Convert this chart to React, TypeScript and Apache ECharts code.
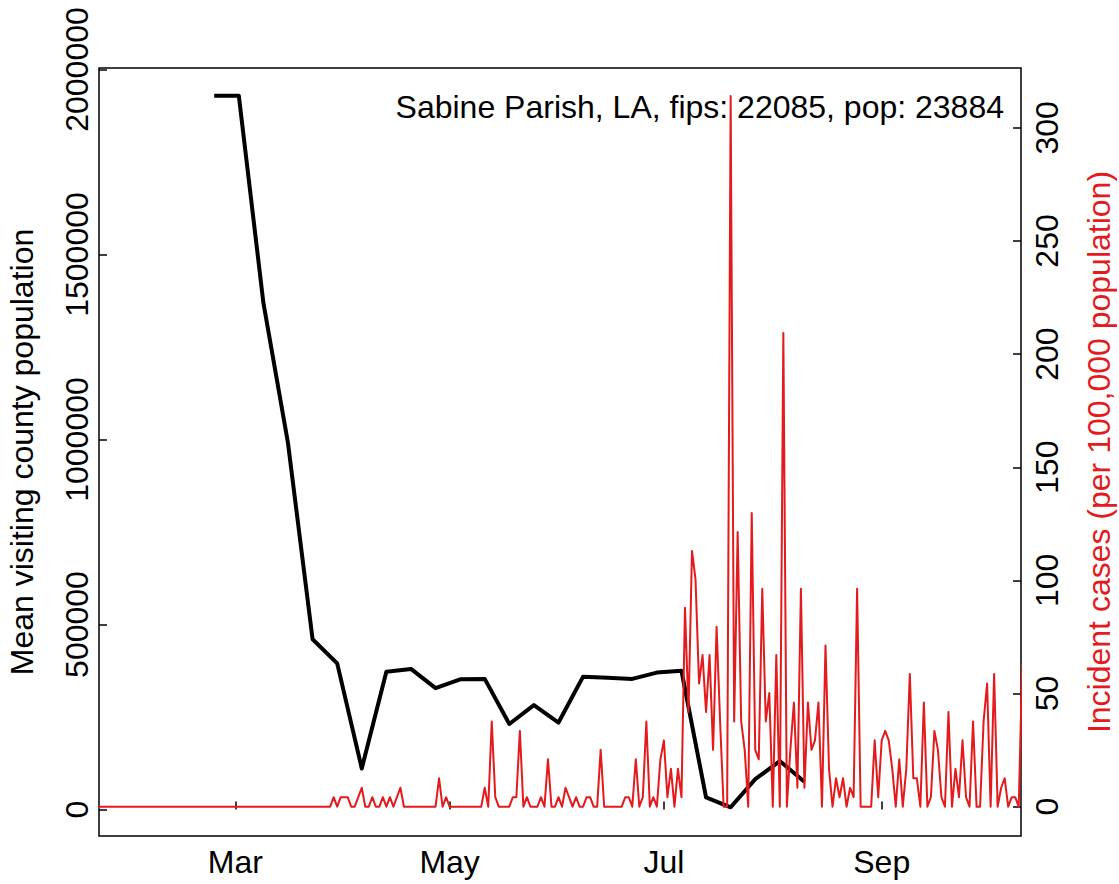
import React, { useEffect, useRef } from "react";
import * as echarts from "echarts";

const DAY = 86400000;
const FIRST_DAY = "2020-01-22";
const POPULATION = 23884;
const TITLE = "Sabine Parish, LA, fips: 22085, pop: 23884";
const LEFT_NAME = "Mean visiting county population";
const RIGHT_NAME = "Incident cases (per 100,000 population)";

// Weekly mean visiting county population (black line)
const visitDates = [
  "2020-02-24", "2020-03-02", "2020-03-09", "2020-03-16", "2020-03-23", "2020-03-30",
  "2020-04-06", "2020-04-13", "2020-04-20", "2020-04-27", "2020-05-04", "2020-05-11",
  "2020-05-18", "2020-05-25", "2020-06-01", "2020-06-08", "2020-06-15", "2020-06-22",
  "2020-06-29", "2020-07-06", "2020-07-13", "2020-07-20", "2020-07-27", "2020-08-03",
  "2020-08-10",
];
const visitValues = [
  1929000, 1929000, 1369000, 990000, 460000, 395000,
  111000, 372000, 380000, 328000, 352000, 353000,
  231000, 282000, 235000, 359000, 356000, 353000,
  370000, 375000, 33000, 6000, 82000, 131000,
  75000,
];

// Daily incident case counts, from 22 Jan 2020 (red line, scaled per 100,000)
const janCases = [0, 0, 0, 0, 0, 0, 0, 0, 0, 0];
const febCases = [0, 0, 0, 0, 0, 0, 0, 0, 0, 0, 0, 0, 0, 0, 0, 0, 0, 0, 0, 0, 0, 0, 0, 0, 0, 0, 0, 0, 0];
const marCases = [0, 0, 0, 0, 0, 0, 0, 0, 0, 0, 0, 0, 0, 0, 0, 0, 0, 0, 0, 0, 0, 0, 0, 0, 0, 0, 0, 0, 1, 0, 1];
const aprCases = [1, 1, 0, 0, 1, 2, 0, 0, 1, 0, 0, 1, 0, 1, 0, 1, 2, 0, 0, 0, 0, 0, 0, 0, 0, 0, 0, 3, 0, 1];
const mayCases = [0, 0, 0, 0, 0, 0, 0, 0, 0, 0, 2, 0, 9, 1, 0, 0, 0, 0, 1, 1, 8, 0, 1, 0, 0, 0, 1, 0, 5, 0, 0];
const junCases = [1, 0, 2, 1, 0, 1, 0, 0, 1, 1, 0, 0, 6, 0, 0, 0, 0, 0, 0, 1, 1, 0, 5, 0, 1, 9, 0, 1, 0, 5];
const julCases = [7, 1, 4, 0, 4, 1, 21, 10, 27, 24, 13, 16, 10, 16, 6, 19, 9, 0, 0, 75, 9, 29, 9, 6, 0, 31, 6, 5, 23, 9, 12];
const augCases = [0, 16, 0, 50, 0, 6, 11, 2, 23, 2, 11, 6, 7, 11, 0, 17, 4, 0, 3, 1, 3, 0, 2, 1, 23, 0, 0, 0, 0, 7, 1];
const sepCases = [7, 8, 7, 4, 0, 5, 0, 4, 14, 3, 3, 0, 11, 0, 1, 8, 6, 1, 0, 10, 0, 4, 1, 7, 1, 0, 9, 0, 0, 9];
const octCases = [13, 0, 14, 0, 2, 3, 0, 1, 1, 0, 15];

const monthTickDates = ["2020-03-01", "2020-05-01", "2020-07-01", "2020-09-01"];
const monthTickLabels = ["Mar", "May", "Jul", "Sep"];
const leftTicks = [0, 500000, 1000000, 1500000, 2000000];
const rightTicks = [0, 50, 100, 150, 200, 250, 300];

const FONT = "'Liberation Sans', Arial, Helvetica, sans-serif";
const RED = "#E41A1C";

const toMs = (s: string) => {
  const [y, m, d] = s.split("-").map(Number);
  return Date.UTC(y, m - 1, d);
};

export default function App() {
  const ref = useRef<HTMLDivElement>(null);

  useEffect(() => {
    if (!ref.current) return;
    const chart = echarts.init(ref.current, null, { renderer: "svg" });

    const start = toMs(FIRST_DAY);
    const allCases = [
      ...janCases, ...febCases, ...marCases, ...aprCases, ...mayCases,
      ...junCases, ...julCases, ...augCases, ...sepCases, ...octCases,
    ];
    const redData = allCases.map((c, i) => [start + i * DAY, (c * 100000) / POPULATION]);
    const blackData = visitDates.map((d, i) => [toMs(d), visitValues[i]]);

    const tickMs = monthTickDates.map(toMs);
    const labelMap: Record<string, string> = {};
    tickMs.forEach((t, i) => (labelMap[String(t)] = monthTickLabels[i]));

    const tickStyle = { color: "#000", width: 1.5 };

    const option: any = {
      animation: false,
      backgroundColor: "#fff",
      grid: {
        left: 99,
        top: 68,
        width: 922,
        height: 768,
        show: true,
        borderColor: "#000",
        borderWidth: 1.5,
        backgroundColor: "transparent",
        containLabel: false,
      },
      xAxis: {
        type: "value",
        min: start + 0.2 * DAY,
        max: start + 262.65 * DAY,
        axisLine: { show: false },
        splitLine: { show: false },
        axisTick: { show: true, inside: true, length: 8, lineStyle: tickStyle, customValues: tickMs },
        axisLabel: {
          customValues: tickMs,
          formatter: (v: number) => labelMap[String(v)] ?? "",
          color: "#000",
          fontSize: 32,
          fontFamily: FONT,
          margin: 10,
        },
      },
      yAxis: [
        {
          type: "value",
          position: "left",
          min: -71622,
          max: 2004050,
          axisLine: { show: false },
          splitLine: { show: false },
          axisTick: { show: true, inside: true, length: 8, lineStyle: tickStyle, customValues: leftTicks },
          axisLabel: {
            customValues: leftTicks,
            rotate: 90,
            formatter: (v: number) => String(v),
            color: "#000",
            fontSize: 32,
            fontFamily: FONT,
            margin: 6,
          },
        },
        {
          type: "value",
          position: "right",
          min: -12.95,
          max: 326.43,
          axisLine: { show: false },
          splitLine: { show: false },
          axisTick: { show: true, inside: true, length: 8, lineStyle: tickStyle, customValues: rightTicks },
          axisLabel: {
            customValues: rightTicks,
            rotate: 90,
            formatter: (v: number) => String(v),
            color: "#000",
            fontSize: 32,
            fontFamily: FONT,
            margin: 10,
          },
        },
      ],
      series: [
        {
          type: "line",
          yAxisIndex: 0,
          data: blackData,
          showSymbol: false,
          symbol: "none",
          lineStyle: { color: "#000", width: 4, join: "round", cap: "butt" },
          z: 2,
        },
        {
          type: "line",
          yAxisIndex: 1,
          data: redData,
          showSymbol: false,
          symbol: "none",
          lineStyle: { color: RED, width: 2, join: "round" },
          z: 3,
        },
      ],
      graphic: [
        {
          type: "text",
          x: 1004,
          y: 107,
          style: {
            text: TITLE,
            fill: "#000",
            font: `32px ${FONT}`,
            textAlign: "right",
            textVerticalAlign: "middle",
            align: "right",
            verticalAlign: "middle",
          },
        },
        {
          type: "text",
          x: 22,
          y: 452,
          rotation: Math.PI / 2,
          style: {
            text: LEFT_NAME,
            fill: "#000",
            font: `32px ${FONT}`,
            textAlign: "center",
            textVerticalAlign: "middle",
            align: "center",
            verticalAlign: "middle",
          },
        },
        {
          type: "text",
          x: 1099,
          y: 452,
          rotation: Math.PI / 2,
          style: {
            text: RIGHT_NAME,
            fill: RED,
            font: `32px ${FONT}`,
            textAlign: "center",
            textVerticalAlign: "middle",
            align: "center",
            verticalAlign: "middle",
          },
        },
      ],
    };

    chart.setOption(option);
    return () => chart.dispose();
  }, []);

  return (
    <div
      ref={ref}
      style={{ position: "absolute", left: 0, top: 0, width: 1119, height: 884, background: "#fff" }}
    />
  );
}
